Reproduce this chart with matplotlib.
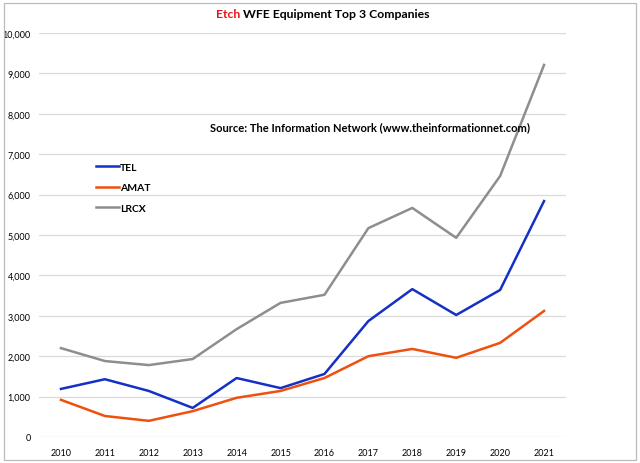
import matplotlib.pyplot as plt
from matplotlib.patches import Rectangle
import numpy as np

plt.rcParams['font.family'] = ['Lato', 'DejaVu Sans']

years = ['2010', '2011', '2012', '2013', '2014', '2015',
         '2016', '2017', '2018', '2019', '2020', '2021']
tel = [1190, 1430, 1140, 720, 1460, 1210, 1560, 2870, 3660, 3020, 3640, 5840]
amat = [920, 520, 400, 640, 970, 1140, 1460, 2000, 2180, 1960, 2330, 3120]
lrcx = [2200, 1880, 1780, 1930, 2670, 3320, 3520, 5170, 5670, 4930, 6460, 9210]

fig = plt.figure(figsize=(6.4, 4.64), dpi=100)
ax = fig.add_axes([39 / 640, 1 - 438 / 464, (566 - 39) / 640, (438 - 34) / 464])

x = np.arange(len(years))
ax.plot(x, tel, color='#1530C4', lw=1.8, label='TEL')
ax.plot(x, amat, color='#F0500F', lw=1.8, label='AMAT')
ax.plot(x, lrcx, color='#8E8E8E', lw=1.8, label='LRCX')

ax.set_xlim(-0.5, len(years) - 0.5)
ax.set_ylim(0, 10000)
ax.set_xticks(x)
ax.set_xticklabels(years, fontsize=6.5)
ax.set_yticks(np.arange(0, 10001, 1000))
ax.set_yticklabels([f'{v:,}' for v in range(0, 10001, 1000)], fontsize=6.5)
ax.tick_params(length=0, pad=8)
ax.tick_params(axis='y', pad=6)
ax.grid(axis='y', color='#DADADA', lw=0.9)
ax.set_axisbelow(True)
for s in ax.spines.values():
    s.set_visible(False)

leg = ax.legend(loc='upper left', bbox_to_anchor=(0.09, 0.702), frameon=False,
                handlelength=2.2, handletextpad=0.1, labelspacing=1.05,
                prop={'weight': 'bold', 'size': 7.5})

fig.text(370 / 640, 1 - 128 / 464,
         'Source: The Information Network (www.theinformationnet.com)',
         ha='center', va='center', fontsize=8, fontweight='bold')

fig.text(216 / 640, 1 - 15 / 464, 'Etch', color='#E8141C',
         ha='left', va='center', fontsize=8.8, fontweight='bold')
fig.text(243 / 640, 1 - 15 / 464, 'WFE Equipment Top 3 Companies', color='black',
         ha='left', va='center', fontsize=8.8, fontweight='bold')

fig.patches.append(Rectangle((4 / 640, 3 / 464), 632 / 640, 457 / 464,
                             transform=fig.transFigure, fill=False,
                             edgecolor='#BBBBBB', lw=0.9))

fig.savefig('out.png', dpi=100)
